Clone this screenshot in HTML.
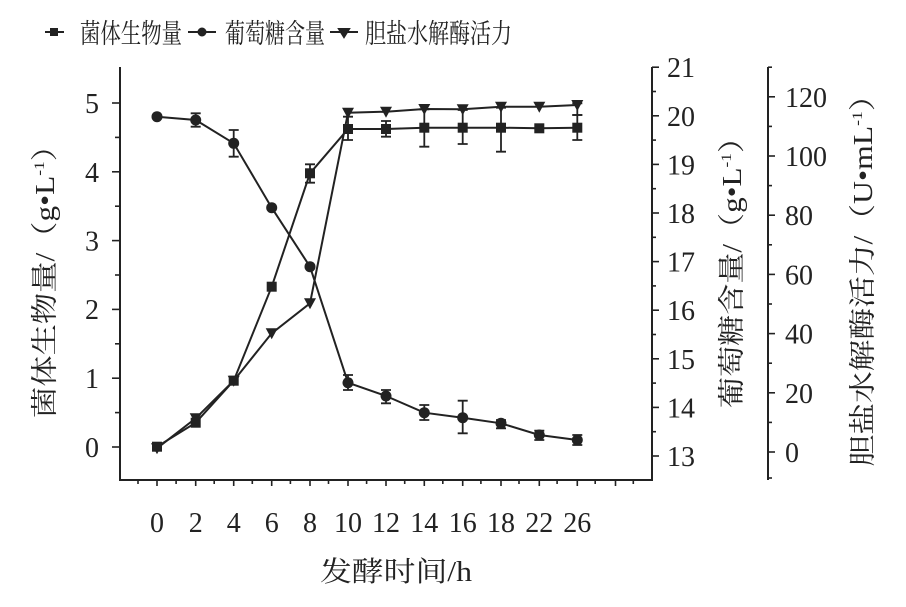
<!DOCTYPE html>
<html><head><meta charset="utf-8"><style>
html,body{margin:0;padding:0;background:#fff;}
svg{display:block;}
text{font-family:"Liberation Serif","Noto Serif CJK SC",serif;fill:#222;}
.cn{font-family:"Liberation Serif","Noto Serif CJK SC",serif;}
</style></head><body>
<svg width="906" height="607" viewBox="0 0 906 607" xmlns="http://www.w3.org/2000/svg">
<g stroke="#222" stroke-width="2" fill="none">
<line x1="120" y1="67" x2="120" y2="481"/>
<line x1="119" y1="480" x2="653" y2="480"/>
<line x1="652" y1="67" x2="652" y2="481"/>
<line x1="768" y1="67" x2="768" y2="480"/>
</g>
<g stroke="#222" stroke-width="1.6">
<line x1="112" y1="447" x2="120" y2="447"/><line x1="115" y1="412.6" x2="120" y2="412.6"/>
<line x1="112" y1="378.2" x2="120" y2="378.2"/><line x1="115" y1="343.8" x2="120" y2="343.8"/>
<line x1="112" y1="309.4" x2="120" y2="309.4"/><line x1="115" y1="275" x2="120" y2="275"/>
<line x1="112" y1="240.6" x2="120" y2="240.6"/><line x1="115" y1="206.2" x2="120" y2="206.2"/>
<line x1="112" y1="171.8" x2="120" y2="171.8"/><line x1="115" y1="137.4" x2="120" y2="137.4"/>
<line x1="112" y1="103" x2="120" y2="103"/>
<line x1="157" y1="480" x2="157" y2="486"/><line x1="195.7" y1="480" x2="195.7" y2="486"/>
<line x1="233.7" y1="480" x2="233.7" y2="486"/><line x1="271.7" y1="480" x2="271.7" y2="486"/>
<line x1="310" y1="480" x2="310" y2="486"/><line x1="348" y1="480" x2="348" y2="486"/>
<line x1="386" y1="480" x2="386" y2="486"/><line x1="424.3" y1="480" x2="424.3" y2="486"/>
<line x1="462.7" y1="480" x2="462.7" y2="486"/><line x1="501" y1="480" x2="501" y2="486"/>
<line x1="539.3" y1="480" x2="539.3" y2="486"/><line x1="577.3" y1="480" x2="577.3" y2="486"/>
<line x1="615.5" y1="480" x2="615.5" y2="486"/>
<line x1="138" y1="480" x2="138" y2="484"/><line x1="176.1" y1="480" x2="176.1" y2="484"/>
<line x1="214.2" y1="480" x2="214.2" y2="484"/><line x1="252.3" y1="480" x2="252.3" y2="484"/>
<line x1="290.4" y1="480" x2="290.4" y2="484"/><line x1="328.5" y1="480" x2="328.5" y2="484"/>
<line x1="366.6" y1="480" x2="366.6" y2="484"/><line x1="404.7" y1="480" x2="404.7" y2="484"/>
<line x1="442.8" y1="480" x2="442.8" y2="484"/><line x1="480.9" y1="480" x2="480.9" y2="484"/>
<line x1="519" y1="480" x2="519" y2="484"/><line x1="557.1" y1="480" x2="557.1" y2="484"/>
<line x1="595.2" y1="480" x2="595.2" y2="484"/><line x1="633.3" y1="480" x2="633.3" y2="484"/>
<line x1="652" y1="456" x2="659" y2="456"/><line x1="652" y1="431.7" x2="656" y2="431.7"/>
<line x1="652" y1="407.4" x2="659" y2="407.4"/><line x1="652" y1="383.1" x2="656" y2="383.1"/>
<line x1="652" y1="358.8" x2="659" y2="358.8"/><line x1="652" y1="334.5" x2="656" y2="334.5"/>
<line x1="652" y1="310.2" x2="659" y2="310.2"/><line x1="652" y1="285.9" x2="656" y2="285.9"/>
<line x1="652" y1="261.6" x2="659" y2="261.6"/><line x1="652" y1="237.3" x2="656" y2="237.3"/>
<line x1="652" y1="213" x2="659" y2="213"/><line x1="652" y1="188.7" x2="656" y2="188.7"/>
<line x1="652" y1="164.4" x2="659" y2="164.4"/><line x1="652" y1="140.1" x2="656" y2="140.1"/>
<line x1="652" y1="115.8" x2="659" y2="115.8"/><line x1="652" y1="91.5" x2="656" y2="91.5"/>
<line x1="652" y1="67.2" x2="659" y2="67.2"/>
<line x1="768" y1="478" x2="772" y2="478"/>
<line x1="768" y1="452" x2="775" y2="452"/><line x1="768" y1="422.4" x2="772" y2="422.4"/>
<line x1="768" y1="392.8" x2="775" y2="392.8"/><line x1="768" y1="363.2" x2="772" y2="363.2"/>
<line x1="768" y1="333.6" x2="775" y2="333.6"/><line x1="768" y1="304" x2="772" y2="304"/>
<line x1="768" y1="274.4" x2="775" y2="274.4"/><line x1="768" y1="244.8" x2="772" y2="244.8"/>
<line x1="768" y1="215.2" x2="775" y2="215.2"/><line x1="768" y1="185.6" x2="772" y2="185.6"/>
<line x1="768" y1="156" x2="775" y2="156"/><line x1="768" y1="126.4" x2="772" y2="126.4"/>
<line x1="768" y1="96.8" x2="775" y2="96.8"/><line x1="768" y1="67.2" x2="772" y2="67.2"/>
</g>
<g font-size="28">
<g text-anchor="end">
<text x="99" y="457">0</text><text x="99" y="388">1</text><text x="99" y="319">2</text>
<text x="99" y="250.6">3</text><text x="99" y="182">4</text><text x="99" y="113">5</text>
</g>
<g text-anchor="middle">
<text x="157" y="532">0</text><text x="195.7" y="532">2</text><text x="233.7" y="532">4</text>
<text x="271.7" y="532">6</text><text x="310" y="532">8</text><text x="348" y="532">10</text>
<text x="386" y="532">12</text><text x="424.3" y="532">14</text><text x="462.7" y="532">16</text>
<text x="501" y="532">18</text><text x="539.3" y="532">22</text><text x="577.3" y="532">26</text>
</g>
<text x="667" y="466">13</text><text x="667" y="417.4">14</text><text x="667" y="368.8">15</text>
<text x="667" y="320.2">16</text><text x="667" y="271.6">17</text><text x="667" y="223">18</text>
<text x="667" y="174.4">19</text><text x="667" y="125.8">20</text><text x="667" y="77.2">21</text>
<text x="785" y="462">0</text><text x="785" y="402.8">20</text><text x="785" y="343.6">40</text>
<text x="785" y="284.4">60</text><text x="785" y="225.2">80</text><text x="785" y="166">100</text>
<text x="785" y="106.8">120</text>
</g>
<g stroke="#222" stroke-width="2" fill="none">
<path d="M157 446.7L195.7 422.7L233.7 380.7L271.7 286.7L310 173.3L348 129L386 129L424.3 127.7L462.7 127.7L501 127.7L539.3 128.3L577.3 127.7"/>
<path d="M157 116.7L195.7 120L233.7 143.3L271.7 207.7L310 266.7L348 382.7L386 396L424.3 412.7L462.7 417.7L501 423.3L539.3 435L577.3 440"/>
<path d="M157 448.3L195.7 418.3L233.7 380.7L271.7 333.3L310 303.3L348 112.7L386 111.7L424.3 109L462.7 109.3L501 106.7L539.3 106.7L577.3 105"/>
</g>
<g stroke="#222" stroke-width="1.8" fill="none">
<path d="M310 164.3V182.7M305 164.3H315M305 182.7H315"/>
<path d="M348 116.7V140M343 116.7H353M343 140H353"/>
<path d="M386 121V136.7M381 121H391M381 136.7H391"/>
<path d="M424.3 109.3V146.7M419.3 109.3H429.3M419.3 146.7H429.3"/>
<path d="M462.7 110V144M457.7 110H467.7M457.7 144H467.7"/>
<path d="M501 107.7V151.7M496 107.7H506M496 151.7H506"/>
<path d="M577.3 115V140M572.3 115H582.3M572.3 140H582.3"/>
<path d="M195.7 113.3V126.7M190.7 113.3H200.7M190.7 126.7H200.7"/>
<path d="M233.7 130V156.7M228.7 130H238.7M228.7 156.7H238.7"/>
<path d="M348 375V390M343 375H353M343 390H353"/>
<path d="M386 390V403.3M381 390H391M381 403.3H391"/>
<path d="M424.3 405V420M419.3 405H429.3M419.3 420H429.3"/>
<path d="M462.7 400.7V433.3M457.7 400.7H467.7M457.7 433.3H467.7"/>
<path d="M501 420V428.3M496 420H506M496 428.3H506"/>
<path d="M539.3 430.7V440M534.3 430.7H544.3M534.3 440H544.3"/>
<path d="M577.3 435V445M572.3 435H582.3M572.3 445H582.3"/>
<path d="M577.3 103.3V115M572.3 103.3H582.3M572.3 115H582.3"/>
</g>
<g fill="#222">
<rect x="152" y="441.7" width="10" height="10"/><rect x="190.7" y="417.7" width="10" height="10"/>
<rect x="228.7" y="375.7" width="10" height="10"/><rect x="266.7" y="281.7" width="10" height="10"/>
<rect x="305" y="168.3" width="10" height="10"/><rect x="343" y="124" width="10" height="10"/>
<rect x="381" y="124" width="10" height="10"/><rect x="419.3" y="122.7" width="10" height="10"/>
<rect x="457.7" y="122.7" width="10" height="10"/><rect x="496" y="122.7" width="10" height="10"/>
<rect x="534.3" y="123.3" width="10" height="10"/><rect x="572.3" y="122.7" width="10" height="10"/>
<circle cx="157" cy="116.7" r="5.5"/><circle cx="195.7" cy="120" r="5.5"/>
<circle cx="233.7" cy="143.3" r="5.5"/><circle cx="271.7" cy="207.7" r="5.5"/>
<circle cx="310" cy="266.7" r="5.5"/><circle cx="348" cy="382.7" r="5.5"/>
<circle cx="386" cy="396" r="5.5"/><circle cx="424.3" cy="412.7" r="5.5"/>
<circle cx="462.7" cy="417.7" r="5.5"/><circle cx="501" cy="423.3" r="5.5"/>
<circle cx="539.3" cy="435" r="5.5"/><circle cx="577.3" cy="440" r="5.5"/>
<path d="M151 443.3H163L157 454.3Z"/><path d="M189.7 413.3H201.7L195.7 424.3Z"/>
<path d="M227.7 375.7H239.7L233.7 386.7Z"/><path d="M265.7 328.3H277.7L271.7 339.3Z"/>
<path d="M304 298.3H316L310 309.3Z"/><path d="M342 107.7H354L348 118.7Z"/>
<path d="M380 106.7H392L386 117.7Z"/><path d="M418.3 104H430.3L424.3 115Z"/>
<path d="M456.7 104.3H468.7L462.7 115.3Z"/><path d="M495 101.7H507L501 112.7Z"/>
<path d="M533.3 101.7H545.3L539.3 112.7Z"/><path d="M571.3 100H583.3L577.3 111Z"/>
</g>
<g stroke="#222" stroke-width="2">
<line x1="45" y1="32" x2="64" y2="32"/><rect x="51" y="29" width="6" height="6" fill="#222"/>
<line x1="188" y1="32" x2="216" y2="32"/><circle cx="202" cy="32" r="3.5" fill="#222"/>
<line x1="330" y1="32" x2="358" y2="32"/><path d="M339 29 L349 29 L344 37 Z" fill="#222"/>
</g>
<text class="cn" x="80" y="43" font-size="27" textLength="102" lengthAdjust="spacingAndGlyphs">菌体生物量</text>
<text class="cn" x="225" y="43" font-size="27" textLength="100" lengthAdjust="spacingAndGlyphs">葡萄糖含量</text>
<text class="cn" x="365" y="43" font-size="27" textLength="147" lengthAdjust="spacingAndGlyphs">胆盐水解酶活力</text>
<text class="cn" transform="translate(54,274) rotate(-90)" text-anchor="middle" font-size="27" textLength="288" lengthAdjust="spacingAndGlyphs">菌体生物量/（g•L<tspan font-size="15" dy="-10">-1</tspan><tspan dy="10">）</tspan></text>
<text class="cn" transform="translate(741,265) rotate(-90)" text-anchor="middle" font-size="27" textLength="286" lengthAdjust="spacingAndGlyphs">葡萄糖含量/（g•L<tspan font-size="15" dy="-10">-1</tspan><tspan dy="10">）</tspan></text>
<text class="cn" transform="translate(872,273) rotate(-90)" text-anchor="middle" font-size="27" textLength="387" lengthAdjust="spacingAndGlyphs">胆盐水解酶活力/（U•mL<tspan font-size="15" dy="-10">-1</tspan><tspan dy="10">）</tspan></text>
<text class="cn" x="320" y="581" font-size="28" textLength="152" lengthAdjust="spacingAndGlyphs">发酵时间/h</text>
</svg>
</body></html>
